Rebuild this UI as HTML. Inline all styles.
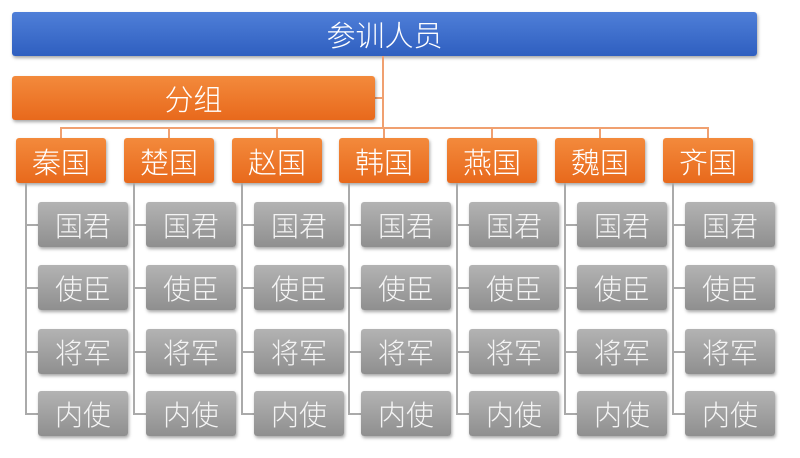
<!DOCTYPE html><html><head><meta charset="utf-8"><style>
body{margin:0;width:800px;height:458px;background:#fff;position:relative;overflow:hidden;font-family:"Liberation Sans","Noto Sans CJK SC",sans-serif}
.b{position:absolute;color:#fff;display:flex;align-items:center;justify-content:center;border-radius:3px;box-shadow:1px 2px 3px rgba(0,0,0,.35);font-weight:300}
.top{left:12px;top:12px;width:745px;height:44px;background:linear-gradient(#4f7fd8,#2f5fc0);font-size:29px}
.grp{left:12px;top:76px;width:363px;height:44px;background:linear-gradient(#f38a3c,#e8691c);font-size:29px}
.c{top:138px;width:90px;height:45px;background:linear-gradient(#f38a3c,#e8691c);font-size:29px}
.g{width:90px;height:45px;background:linear-gradient(#b3b3b3,#8f8f8f);font-size:28px;color:#f4f4f4}
.l{position:absolute;background:#f0a070}
.v{position:absolute;background:#aaa}
</style></head><body>
<div class="b top">参训人员</div>
<div class="l" style="left:382px;top:56px;width:2px;height:73px"></div>
<div class="l" style="left:375px;top:97px;width:8px;height:2px"></div>
<div class="b grp">分组</div>
<div class="l" style="left:60px;top:127px;width:648px;height:2px"></div>
<div id="w"></div>
<script>
var n=["秦国","楚国","赵国","韩国","燕国","魏国","齐国"],r=["国君","使臣","将军","内使"],ys=[202,265,329,391],h="";
for(var i=0;i<7;i++){var x=Math.round(16+i*107.8);
h+='<div class="l" style="left:'+(x+44)+'px;top:127px;width:2px;height:11px"></div>';
h+='<div class="b c" style="left:'+x+'px">'+n[i]+'</div>';
h+='<div class="v" style="left:'+(x+9)+'px;top:183px;width:2px;height:232px"></div>';
for(var j=0;j<4;j++){h+='<div class="v" style="left:'+(x+9)+'px;top:'+(ys[j]+22)+'px;width:13px;height:2px"></div>';
h+='<div class="b g" style="left:'+(x+22)+'px;top:'+ys[j]+'px">'+r[j]+'</div>';}}
document.getElementById("w").innerHTML=h;
</script>
</body></html>
